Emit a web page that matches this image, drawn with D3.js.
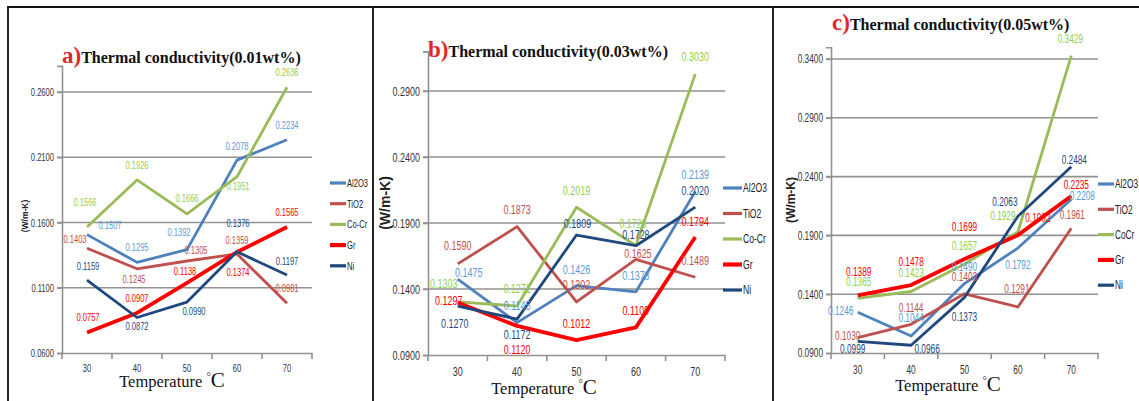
<!DOCTYPE html>
<html>
<head>
<meta charset="utf-8">
<script src="https://cdn.jsdelivr.net/npm/d3@7"></script>
<style>
  body { margin: 0; background: #fff; }
</style>
</head>
<body>
<svg id="chart" width="1139" height="401"></svg>
<script>
const temps = [30, 40, 50, 60, 70]
const namesAB = ['Al2O3', 'TiO2', 'Co-Cr', 'Gr', 'Ni']
const namesC = ['Al2O3', 'TiO2', 'CoCr', 'Gr', 'Ni']

// a) 0.01wt%
const al2o3A = [0.1507, 0.1295, 0.1392, 0.2078, 0.2234]
const tio2A = [0.1403, 0.1245, 0.1305, 0.1359, 0.0981]
const cocrA = [0.1566, 0.1926, 0.1666, 0.1951, 0.2636]
const grA = [0.0757, 0.0907, 0.1138, 0.1374, 0.1565]
const niA = [0.1159, 0.0872, 0.0990, 0.1376, 0.1197]
const yTicksA = [0.06, 0.11, 0.16, 0.21, 0.26]

// b) 0.03wt%
const al2o3B = [0.1475, 0.1145, 0.1426, 0.1378, 0.2139]
const tio2B = [0.1590, 0.1873, 0.1302, 0.1625, 0.1489]
const cocrB = [0.1303, 0.1271, 0.2019, 0.1729, 0.3030]
const grB = [0.1297, 0.1120, 0.1012, 0.1109, 0.1794]
const niB = [0.1270, 0.1172, 0.1809, 0.1728, 0.2020]
const yTicksB = [0.09, 0.14, 0.19, 0.24, 0.29]

// c) 0.05wt%
const al2o3C = [0.1246, 0.1044, 0.1490, 0.1792, 0.2208]
const tio2C = [0.1030, 0.1144, 0.1403, 0.1291, 0.1961]
const cocrC = [0.1365, 0.1423, 0.1657, 0.1929, 0.3429]
const grC = [0.1389, 0.1478, 0.1699, 0.1902, 0.2235]
const niC = [0.0999, 0.0966, 0.1373, 0.2063, 0.2484]
const yTicksC = [0.09, 0.14, 0.19, 0.24, 0.29, 0.34]

const lineColors = ['#4f81bd', '#c0504d', '#9bbb59', '#ff0000', '#1f497d']
const labelColors = ['#5b9bd5', '#c0504d', '#92d050', '#ff0000', '#1f497d']
const lineWidths = [2.8, 2.8, 2.8, 3.8, 2.8]

// label nudges [dx, dy] from each point (centre of label), series by series
const nudgeA = [
  [[23, -9], [0, -15], [-8, -17], [0, -14], [0, -15]],
  [[-12, -9], [-3, 10], [9, -11], [0, -14], [0, -15]],
  [[-2, -25], [0, -15], [0, -16], [1, 9], [0, -15]],
  [[1, -15], [0, -15], [-2, -12], [1, 20], [0, -15]],
  [[1, -14], [0, 9], [7, 9], [1, -29], [0, -14]]
]
const nudgeB = [
  [[11, -7], [0, -17], [0, -16], [0, -16], [0, -17]],
  [[0, -18], [0, -17], [0, -18], [2, -6], [0, -17]],
  [[-14, -18], [0, -18], [0, -17], [-3, -22], [0, -17]],
  [[-9, -2], [0, 23], [0, -17], [0, -17], [0, -16]],
  [[-3, 17], [0, 15], [1, -12], [0, -11], [0, -17]]
]
const nudgeC = [
  [[-17, -2], [0, -18], [0, -17], [0, 17], [11, -3]],
  [[-10, -2], [0, -17], [0, -17], [-1, -18], [1, -13]],
  [[1, -17], [0, -19], [0, -18], [-15, -16], [-1, -17]],
  [[1, -24], [0, -23], [0, -32], [20, -17], [5, -11]],
  [[-5, 7], [16, 4], [0, 19], [-13, -14], [3, -7]]
]

const sans = "'Liberation Sans', Arial, sans-serif"
const serif = "'Liberation Serif', 'DejaVu Serif', serif"
const fmt = d3.format('.4f')
const squeeze = 0.69 // the source font is a narrow one

const svg = d3.select('#chart')

// panel frames
svg.append('line').attr('x1', 7).attr('x2', 1139).attr('y1', 7).attr('y2', 7)
  .attr('stroke', '#111').attr('stroke-width', 2)
;[8, 373, 773].forEach(x => {
  svg.append('line').attr('x1', x).attr('x2', x).attr('y1', 6).attr('y2', 401)
    .attr('stroke', '#222').attr('stroke-width', 2)
})

const drawPanel = (cfg, series, names, nudges) => {
  const g = svg.append('g')

  const x = d3.scaleBand()
    .domain(temps)
    .range([cfg.left, cfg.right])

  const y = d3.scaleLinear()
    .domain(cfg.yDomain)
    .range(cfg.yRange)

  const base = y(cfg.yDomain[0])

  // gridlines
  g.selectAll('line.grid')
    .data(cfg.yTicks.slice(1))
    .enter()
    .append('line')
    .attr('class', 'grid')
    .attr('x1', cfg.left - 5)
    .attr('x2', cfg.right)
    .attr('y1', d => y(d))
    .attr('y2', d => y(d))
    .attr('stroke', '#929292')
    .attr('stroke-width', 1.6)

  // y axis
  const yAxis = g.append('g')
    .attr('transform', `translate(${cfg.left},0)`)
    .call(d3.axisLeft(y).tickValues(cfg.yTicks).tickFormat(fmt).tickSize(5).tickPadding(3))
  yAxis.select('.domain').attr('stroke', '#929292').attr('stroke-width', 1.6)
  yAxis.selectAll('.tick line').attr('stroke', '#929292').attr('stroke-width', 1.6)
  yAxis.selectAll('.tick text')
    .attr('x', -8 / squeeze)
    .attr('transform', `scale(${squeeze},1)`)
    .attr('font-family', sans)
    .attr('font-size', cfg.tickFont)
    .attr('fill', '#333')

  // x axis
  const xAxis = g.append('g')
    .attr('transform', `translate(0,${base})`)
    .call(d3.axisBottom(x).tickSize(0).tickPadding(cfg.tickPad))
  xAxis.select('.domain').attr('stroke', '#929292').attr('stroke-width', 1.6)
  xAxis.selectAll('.tick text')
    .attr('transform', `scale(${squeeze},1)`)
    .attr('font-family', sans)
    .attr('font-size', cfg.tickFont)
    .attr('fill', '#333')
  g.selectAll('line.xtick')
    .data(temps)
    .enter()
    .append('line')
    .attr('class', 'xtick')
    .attr('x1', d => x(d))
    .attr('x2', d => x(d))
    .attr('y1', base)
    .attr('y2', base + 6)
    .attr('stroke', '#929292')
    .attr('stroke-width', 1.6)
  g.append('line')
    .attr('x1', cfg.right).attr('x2', cfg.right)
    .attr('y1', base).attr('y2', base + 6)
    .attr('stroke', '#929292').attr('stroke-width', 1.6)

  const cx = d => x(d) + x.bandwidth() / 2

  const line = d3.line()
    .x((d, i) => cx(temps[i]))
    .y(d => y(d))

  g.selectAll('path.series')
    .data(series)
    .enter()
    .append('path')
    .attr('class', 'series')
    .attr('d', d => line(d))
    .attr('fill', 'none')
    .attr('stroke', (d, i) => lineColors[i])
    .attr('stroke-width', (d, i) => lineWidths[i])
    .attr('stroke-linejoin', 'round')

  // data labels
  series.forEach((vals, s) => {
    g.selectAll(null)
      .data(vals)
      .enter()
      .append('text')
      .attr('transform', (d, i) =>
        `translate(${cx(temps[i]) + nudges[s][i][0]},${y(d) + nudges[s][i][1]}) scale(${squeeze},1)`)
      .attr('dy', '0.35em')
      .attr('text-anchor', 'middle')
      .attr('font-family', sans)
      .attr('font-size', cfg.labelFont)
      .attr('fill', labelColors[s])
      .text(d => fmt(d))
  })

  // legend
  const leg = g.selectAll('g.legend')
    .data(names)
    .enter()
    .append('g')
    .attr('class', 'legend')
    .attr('transform', (d, i) => `translate(${cfg.legX},${cfg.legY + i * cfg.legStep})`)
  leg.append('line')
    .attr('x1', 0)
    .attr('x2', cfg.legLen)
    .attr('stroke', (d, i) => lineColors[i])
    .attr('stroke-width', (d, i) => lineWidths[i] + 0.4)
  leg.append('text')
    .attr('transform', `translate(${cfg.legLen + 1},0) scale(${squeeze},1)`)
    .attr('dy', '0.35em')
    .attr('font-family', sans)
    .attr('font-size', cfg.legFont)
    .attr('fill', '#222')
    .text(d => d)

  // title
  const title = g.append('text')
    .attr('x', cfg.titleX)
    .attr('y', cfg.titleY)
    .attr('font-family', serif)
    .attr('font-weight', 'bold')
  title.append('tspan')
    .attr('font-size', 23)
    .attr('fill', '#e3262b')
    .text(cfg.letter)
  title.append('tspan')
    .attr('font-size', 16)
    .attr('fill', '#111')
    .text(cfg.title)

  // y axis title
  g.append('text')
    .attr('transform', `translate(${cfg.ylabX},${cfg.ylabY}) rotate(-90)`)
    .attr('text-anchor', 'middle')
    .attr('dy', '0.35em')
    .attr('font-family', sans)
    .attr('font-weight', 'bold')
    .attr('font-size', cfg.ylabFont)
    .attr('fill', '#222')
    .text('(W/m-K)')

  // x axis title
  const xt = g.append('text')
    .attr('x', cfg.xlabX)
    .attr('y', cfg.xlabY)
    .attr('text-anchor', 'middle')
    .attr('font-family', serif)
    .attr('fill', '#111')
  xt.append('tspan').attr('font-size', 16.5).text('Temperature ')
  xt.append('tspan').attr('font-size', 11).attr('dy', -7).text('°')
  xt.append('tspan').attr('font-size', 21).attr('dy', 7).text('C')
}

drawPanel({
  left: 62, right: 312, yDomain: [0.06, 0.28], yRange: [353, 65.9], yTicks: yTicksA,
  tickFont: 11, tickPad: 11, labelFont: 11,
  legX: 330, legY: 183, legStep: 20.7, legLen: 16, legFont: 11,
  titleX: 62, titleY: 63, letter: 'a)', title: 'Thermal conductivity(0.01wt%)',
  ylabX: 25, ylabY: 216, ylabFont: 8.5,
  xlabX: 172, xlabY: 387
}, [al2o3A, tio2A, cocrA, grA, niA], namesAB, nudgeA)

drawPanel({
  left: 428, right: 725, yDomain: [0.09, 0.32], yRange: [355, 51.4], yTicks: yTicksB,
  tickFont: 13, tickPad: 12, labelFont: 13,
  legX: 723, legY: 188, legStep: 25.5, legLen: 19, legFont: 12.5,
  titleX: 428, titleY: 57, letter: 'b)', title: 'Thermal conductivity(0.03wt%)',
  ylabX: 385, ylabY: 203, ylabFont: 14,
  xlabX: 544, xlabY: 394
}, [al2o3B, tio2B, cocrB, grB, niB], namesAB, nudgeB)

drawPanel({
  left: 831, right: 1098, yDomain: [0.09, 0.35], yRange: [353, 47.2], yTicks: yTicksC,
  tickFont: 12, tickPad: 12, labelFont: 12,
  legX: 1098, legY: 184, legStep: 25.3, legLen: 16, legFont: 12,
  titleX: 832, titleY: 30, letter: 'c)', title: 'Thermal conductivity(0.05wt%)',
  ylabX: 791, ylabY: 200, ylabFont: 12,
  xlabX: 948, xlabY: 391
}, [al2o3C, tio2C, cocrC, grC, niC], namesC, nudgeC)
</script>
</body>
</html>
